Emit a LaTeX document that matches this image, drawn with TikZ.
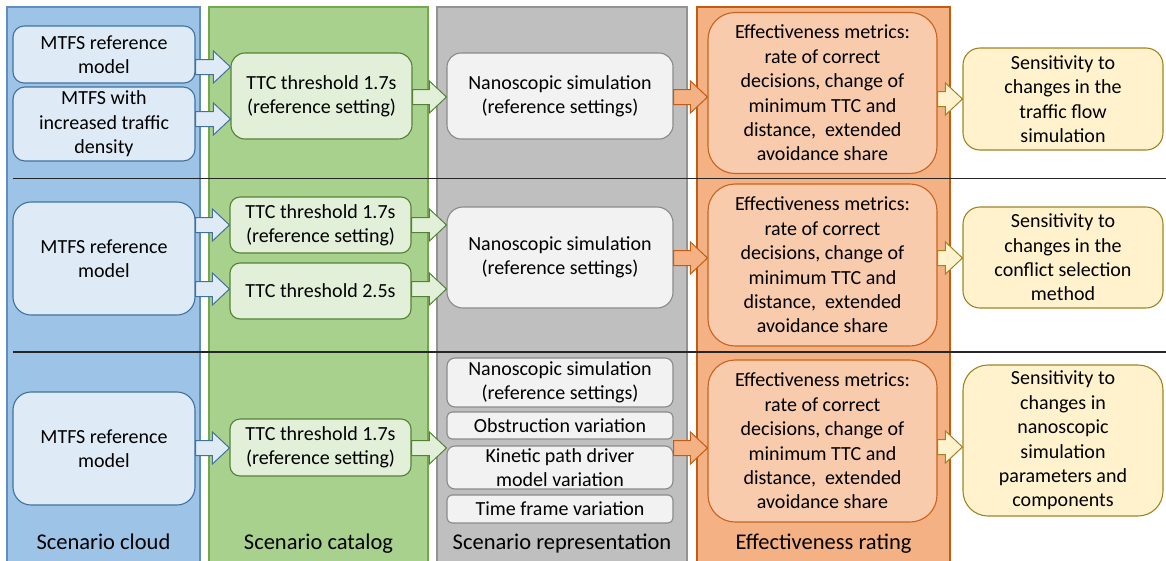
\documentclass[tikz,border=0pt]{standalone}
\usepackage{fontspec}
\setmainfont{Carlito}
\usetikzlibrary{calc}

% lane colours
\definecolor{laneBlue}{HTML}{9DC3E6}   \definecolor{laneBlueLine}{HTML}{5F8DC0}
\definecolor{laneGreen}{HTML}{A9D18E}  \definecolor{laneGreenLine}{HTML}{72A84E}
\definecolor{laneGray}{HTML}{BFBFBF}   \definecolor{laneGrayLine}{HTML}{939393}
\definecolor{laneOrange}{HTML}{F4B183} \definecolor{laneOrangeLine}{HTML}{C55A11}
% box colours
\definecolor{boxBlue}{HTML}{DEEBF7}    \definecolor{boxBlueLine}{HTML}{41719C}
\definecolor{boxGreen}{HTML}{E2F0D9}   \definecolor{boxGreenLine}{HTML}{548235}
\definecolor{boxGray}{HTML}{F2F2F2}    \definecolor{boxGrayLine}{HTML}{8A8A8A}
\definecolor{boxOrange}{HTML}{F8CBAD}  \definecolor{boxOrangeLine}{HTML}{C9631E}
\definecolor{boxYellow}{HTML}{FFF2CC}  \definecolor{boxYellowLine}{HTML}{9E8424}

% horizontal block arrow from the east side of #2 to the west side of #3 at height #4
\newcommand\blockarrow[4]{%
  \draw[#1] let \p1=(#2.east), \p2=(#3.west), \p3=(0,#4) in
    (\x1,\y3+7.5pt) -- (\x2-17pt,\y3+7.5pt) -- (\x2-17pt,\y3+16pt) -- (\x2,\y3)
    -- (\x2-17pt,\y3-16pt) -- (\x2-17pt,\y3-7.5pt) -- (\x1,\y3-7.5pt) -- cycle;}

\tikzset{
  lane/.style={line width=1.3pt},
  rowrule/.style={line width=1.1pt, draw=black!85},
  box/.style={rectangle, line width=1.1pt, align=center, inner sep=0pt,
    font=\fontsize{20}{24.4}\selectfont},
  sz/.style 2 args={minimum width=#1pt, minimum height=#2pt},
  rc/.style={rounded corners=#1pt},
  bluebox/.style={box, fill=boxBlue, draw=boxBlueLine},
  greenbox/.style={box, fill=boxGreen, draw=boxGreenLine},
  graybox/.style={box, fill=boxGray, draw=boxGrayLine},
  orangebox/.style={box, fill=boxOrange, draw=boxOrangeLine},
  yellowbox/.style={box, fill=boxYellow, draw=boxYellowLine},
  bluearrow/.style={fill=boxBlue, draw=boxBlueLine, line width=1pt, line join=miter},
  greenarrow/.style={fill=boxGreen, draw=boxGreenLine, line width=1pt, line join=miter},
  orangearrow/.style={fill=laneOrange, draw=laneOrangeLine, line width=1pt, line join=miter},
  yellowarrow/.style={fill=boxYellow, draw=boxYellowLine, line width=1pt, line join=miter},
  lanetitle/.style={anchor=base, inner sep=0pt, font=\fontsize{22.5}{27}\selectfont},
}

\begin{document}
\begin{tikzpicture}[x=1pt, y=-1pt]
\useasboundingbox (0,0) rectangle (1166,560);

% lanes
\draw[lane, fill=laneBlue, draw=laneBlueLine] (7,7) rectangle (200,575);
\draw[lane, fill=laneGreen, draw=laneGreenLine] (209,7) rectangle (428,575);
\draw[lane, fill=laneGray, draw=laneGrayLine] (437,7) rectangle (687,575);
\draw[lane, fill=laneOrange, draw=laneOrangeLine] (697,7) rectangle (950,575);

% row separators
\draw[rowrule] (13,178.5) -- (1170,178.5);
\draw[rowrule] (13,352) -- (1170,352);

% lane titles
\node[lanetitle] (t1) at (103.5,549.5) {Scenario cloud};
\node[lanetitle] (t2) at (318.5,549.5) {Scenario catalog};
\node[lanetitle] (t3) at (562,549.5) {Scenario representation};
\node[lanetitle] (t4) at (823.5,549.5) {Effectiveness rating};

% ---- row 1: traffic flow simulation
\node[bluebox, sz={182}{57}, rc=11] (c1a) at (104,54.5) {MTFS reference\\model};
\node[bluebox, sz={182}{74}, rc=12] (c1b) at (104,124) {MTFS with\\increased traffic\\density};
\node[greenbox, sz={181}{86}, rc=14] (k1) at (321.5,96) {TTC threshold 1.7s\\(reference setting)};
\node[graybox, sz={226}{86}, rc=14] (n1) at (560,96) {Nanoscopic simulation\\(reference settings)};
\node[orangebox, sz={229}{161}, rc=27] (e1) at (822.5,93) {Effectiveness metrics:\\rate of correct\\decisions, change of\\minimum TTC and\\distance,~ extended\\avoidance share};
\node[yellowbox, sz={200}{102}, rc=17] (s1) at (1063,99) {Sensitivity to\\changes in the\\traffic flow\\simulation};

% ---- row 2: conflict selection method
\node[bluebox, sz={182}{113}, rc=18] (c2) at (104,258.5) {MTFS reference\\model};
\node[greenbox, sz={181}{56}, rc=10] (k2a) at (320.5,225) {TTC threshold 1.7s\\(reference setting)};
\node[greenbox, sz={181}{56}, rc=10] (k2b) at (320.5,291) {TTC threshold 2.5s};
\node[graybox, sz={226}{101}, rc=16] (n2) at (560,257.5) {Nanoscopic simulation\\(reference settings)};
\node[orangebox, sz={229}{162}, rc=27] (e2) at (822.5,265) {Effectiveness metrics:\\rate of correct\\decisions, change of\\minimum TTC and\\distance,~ extended\\avoidance share};
\node[yellowbox, sz={200}{101}, rc=17] (s2) at (1063,257.5) {Sensitivity to\\changes in the\\conflict selection\\method};

% ---- row 3: nanoscopic simulation parameters
\node[bluebox, sz={182}{113}, rc=18] (c3) at (104,448.5) {MTFS reference\\model};
\node[greenbox, sz={181}{57}, rc=10] (k3) at (320.5,447.5) {TTC threshold 1.7s\\(reference setting)};
\node[graybox, sz={226}{49}, rc=8] (g1) at (560,382.5) {Nanoscopic simulation\\(reference settings)};
\node[graybox, sz={226}{27}, rc=5] (g2) at (560,425.5) {Obstruction variation};
\node[graybox, sz={226}{43}, rc=8] (g3) at (560,467.5) {Kinetic path driver\\model variation};
\node[graybox, sz={226}{28}, rc=5] (g4) at (560,509) {Time frame variation};
\node[orangebox, sz={229}{162}, rc=27] (e3) at (822.5,441) {Effectiveness metrics:\\rate of correct\\decisions, change of\\minimum TTC and\\distance,~ extended\\avoidance share};
\node[yellowbox, sz={200}{151}, rc=25] (s3) at (1063,440.5) {Sensitivity to\\changes in\\nanoscopic\\simulation\\parameters and\\components};

% ---- block arrows
\blockarrow{bluearrow}{c1a}{k1}{67}
\blockarrow{bluearrow}{c1b}{k1}{119}
\blockarrow{greenarrow}{k1}{n1}{97}
\blockarrow{orangearrow}{n1}{e1}{97}
\blockarrow{yellowarrow}{e1}{s1}{99}

\blockarrow{bluearrow}{c2}{k2a}{225}
\blockarrow{bluearrow}{c2}{k2b}{289}
\blockarrow{greenarrow}{k2a}{n2}{225}
\blockarrow{greenarrow}{k2b}{n2}{289}
\blockarrow{orangearrow}{n2}{e2}{258}
\blockarrow{yellowarrow}{e2}{s2}{258}

\blockarrow{bluearrow}{c3}{k3}{448}
\blockarrow{greenarrow}{k3}{g3}{448}
\blockarrow{orangearrow}{g3}{e3}{448}
\blockarrow{yellowarrow}{e3}{s3}{447}
\end{tikzpicture}
\end{document}
